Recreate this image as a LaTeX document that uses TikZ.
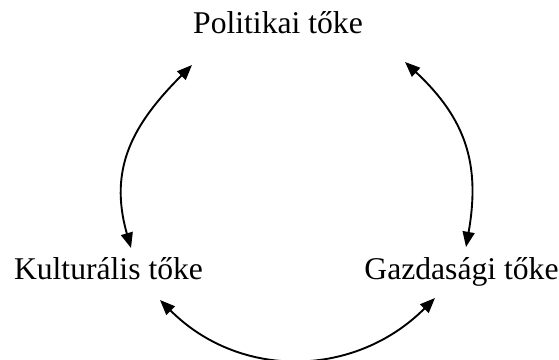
\documentclass[tikz,border=0pt]{standalone}
\usepackage{fontspec}
\setmainfont{Liberation Serif}
\usetikzlibrary{arrows.meta, calc}

\begin{document}
\begin{tikzpicture}[
  x = 0.025cm, y = 0.025cm,
  every node/.style = {font=\fontsize{22.5}{27}\selectfont},
  capital/.style = {anchor=base, inner sep=0pt},
  arrow/.style   = {{Triangle[length=0.38cm, width=0.3cm]}-{Triangle[length=0.38cm, width=0.3cm]},
                    line width=1.35pt}
]
\useasboundingbox (0,0) rectangle (559,360);

% Nodes
\node[capital] (pol) at (278,326)   {Politikai tőke};
\node[capital] (kul) at (108.5,80)  {Kulturális tőke};
\node[capital] (gaz) at (461.5,80)  {Gazdasági tőke};

% Arrows
\draw[arrow] ($(kul.base)+(22.5,32)$) to[out=106, in=225, looseness=1.1]
  ($(pol.base)+(-86,-31)$);
\draw[arrow] ($(pol.base)+(127,-28)$) to[out=-43, in=80, looseness=1.1]
  ($(gaz.base)+(4.5,33)$);
\draw[arrow] ($(kul.base)+(51.5,-20)$) to[out=-45, in=225, looseness=1.05]
  ($(gaz.base)+(-26.5,-18)$);

\end{tikzpicture}
\end{document}
